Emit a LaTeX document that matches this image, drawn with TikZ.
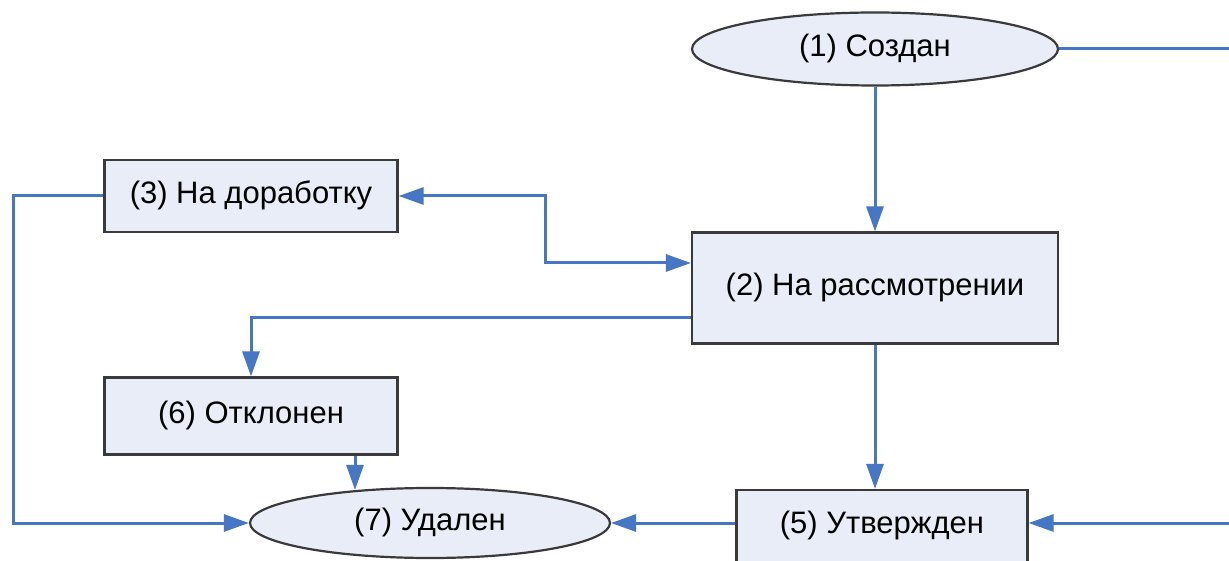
\documentclass[tikz,border=0pt]{standalone}
\usepackage{fontspec}
\setmainfont{Liberation Sans}
\usetikzlibrary{shapes.geometric,arrows.meta}
\definecolor{boxfill}{HTML}{E8EDF7}
\definecolor{linkblue}{HTML}{4677C4}
\definecolor{edgegrey}{HTML}{3A3A3A}
\begin{document}
\begin{tikzpicture}[x=1pt,y=-1pt,
  base/.style={draw=edgegrey,line width=2.2pt,fill=boxfill,inner sep=0pt,
    font=\fontsize{31}{36}\selectfont,text height=22pt,text depth=7pt},
  statebox/.style={base,rectangle},
  stateoval/.style={base,ellipse},
  tip/.tip={Triangle[length=25pt,width=17pt]},
  link/.style={draw=linkblue,line width=3pt,-tip},
  plain/.style={draw=linkblue,line width=3pt}]
\useasboundingbox (0,0) rectangle (1229,561);
\fill[white] (0,0) rectangle (1229,561);

\node[stateoval,minimum width=366pt,minimum height=73pt] (n1) at (875,49) {(1) Создан};
\node[statebox,minimum width=366pt,minimum height=111pt] (n2) at (875,288) {(2) На рассмотрении};
\node[statebox,minimum width=293pt,minimum height=72pt] (n3) at (251,196) {(3) На доработку};
\node[statebox,minimum width=293pt,minimum height=77pt] (n6) at (251,416) {(6) Отклонен};
\node[stateoval,minimum width=360pt,minimum height=70pt] (n7) at (430,523) {(7) Удален};
\node[statebox,minimum width=291pt,minimum height=80pt,text depth=15pt] (n5) at (882,530) {(5) Утвержден};

\coordinate (r1) at (1229,49);
\coordinate (r2) at (1229,523);

\draw[link] (n1.south) -- (n2.north);
\draw[plain] (n1.east) -- (r1);
\draw[link,tip-tip]
  (n3.east) -- (545,196) |- ([yshift=25pt]n2.west);
\draw[link] (n3.west) -- (13,196) |- (n7.west);
\draw[link] ([yshift=-30pt]n2.west) -| (n6.north);
\draw[link] ([xshift=104pt]n6.south) -- ([xshift=104pt,yshift=-3pt]n6.south |- n7.north);
\draw[link] (n2.south) -- (n2.south |- n5.north);
\draw[link] ([yshift=7pt]n5.west) -- (n7.east);
\draw[link] (r2) -- ([yshift=7pt]n5.east);
\end{tikzpicture}
\end{document}
